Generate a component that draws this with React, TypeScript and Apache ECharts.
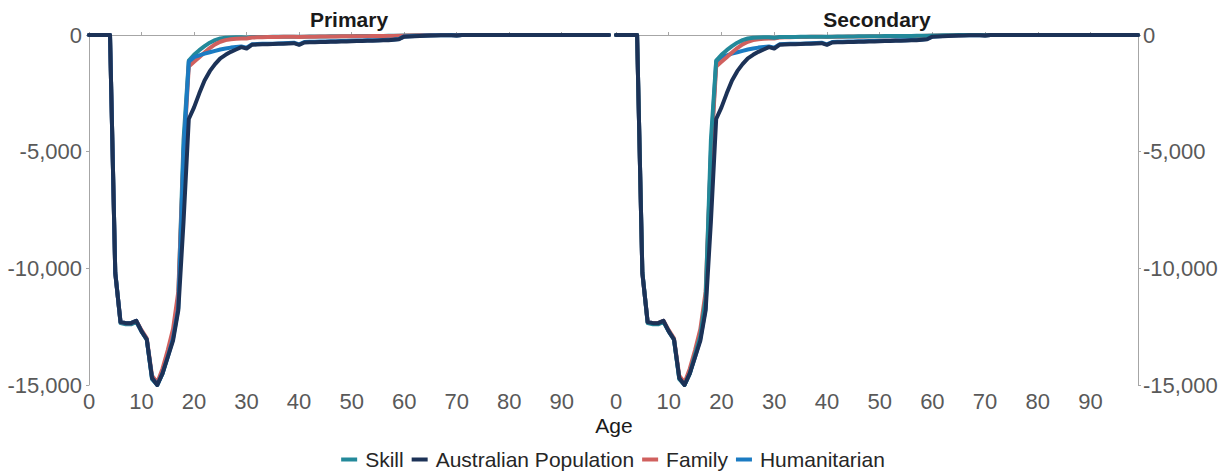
import React, { useEffect, useRef } from "react";
import * as echarts from "echarts";

const AGES: number[] = Array.from({ length: 100 }, (_, i) => i);

const TAIL_ZEROS = [0, 0, 0, 0, 0, 0, 0, 0, 0, 0, 0, 0, 0, 0, 0, 0, 0, 0, 0, 0, 0, 0, 0, 0, 0];

const AUSTRALIAN: number[] = [
  0, 0, 0, 0, 0,
  -10200, -12300, -12350, -12350, -12250,
  -12700, -13050, -14700, -15000, -14500,
  -13800, -13100, -11800, -8000, -3600,
  -3100, -2500, -1950, -1550, -1250,
  -1000, -850, -720, -620, -520,
  -580, -420, -410, -400, -400,
  -390, -380, -370, -360, -350,
  -420, -320, -310, -310, -300,
  -300, -290, -290, -280, -280,
  -270, -260, -260, -250, -250,
  -240, -230, -220, -200, -180,
  -70, -60, -50, -40, -30,
  -25, -20, -15, -10, -10,
  -25, -5, 0, 0, 0,
  ...TAIL_ZEROS,
];

const SKILL: number[] = [
  0, 0, 0, 0, 0,
  -10150, -12350, -12400, -12400, -12300,
  -12700, -13050, -14750, -15000, -14500,
  -13700, -12900, -11300, -4500, -1100,
  -850, -650, -480, -330, -220,
  -150, -120, -110, -100, -100,
  -120, -90, -90, -85, -85,
  -80, -80, -75, -75, -70,
  -80, -70, -65, -65, -60,
  -60, -55, -55, -50, -50,
  -50, -45, -45, -45, -40,
  -40, -40, -35, -35, -30,
  -25, -20, -15, -10, -10,
  -5, -5, -5, 0, 0,
  -15, 0, 0, 0, 0,
  ...TAIL_ZEROS,
];

const FAMILY: number[] = [
  0, 0, 0, 0, 0,
  -10200, -12300, -12350, -12350, -12250,
  -12650, -13000, -14600, -14900, -14300,
  -13500, -12600, -11000, -5200, -1350,
  -1150, -950, -750, -560, -400,
  -290, -220, -180, -160, -150,
  -150, -110, -100, -95, -90,
  -90, -85, -80, -80, -75,
  -85, -75, -70, -70, -65,
  -65, -60, -60, -55, -55,
  -55, -50, -50, -50, -45,
  -45, -45, -40, -40, -35,
  -30, -25, -20, -15, -10,
  -10, -5, -5, 0, 0,
  -15, 0, 0, 0, 0,
  ...TAIL_ZEROS,
];

const HUMANITARIAN: number[] = [
  0, 0, 0, 0, 0,
  -10200, -12300, -12350, -12350, -12250,
  -12700, -13050, -14700, -15000, -14500,
  -13800, -13000, -11700, -5000, -1150,
  -950, -870, -800, -740, -680,
  -620, -580, -540, -510, -490,
  -540, -400, -390, -380, -380,
  -370, -360, -350, -340, -330,
  -400, -300, -290, -290, -280,
  -280, -270, -270, -260, -260,
  -250, -240, -240, -230, -230,
  -220, -210, -200, -190, -170,
  -60, -50, -40, -30, -25,
  -20, -15, -10, -10, -5,
  -20, 0, 0, 0, 0,
  ...TAIL_ZEROS,
];

const PANELS = ["Primary", "Secondary"];
const LEGEND_NAMES = ["Skill", "Australian Population", "Family", "Humanitarian"];
const X_TICKS = { min: 0, max: 99, interval: 10 };
const Y_TICKS = { min: -15000, max: 0, interval: 5000 };

const COLORS: Record<string, string> = {
  Skill: "#23899A",
  "Australian Population": "#1C3257",
  Family: "#D0605E",
  Humanitarian: "#1B7BC2",
};

const SERIES_VALUES: Record<string, number[]> = {
  Skill: SKILL,
  "Australian Population": AUSTRALIAN,
  Family: FAMILY,
  Humanitarian: HUMANITARIAN,
};

const FONT = "'Liberation Sans', Arial, sans-serif";
const AXIS_GRAY = "#A6A6A6";
const LABEL_GRAY = "#595959";

function makeSeries(name: string, gridIndex: number) {
  const vals = SERIES_VALUES[name];
  return {
    name,
    type: "line",
    xAxisIndex: gridIndex,
    yAxisIndex: gridIndex,
    data: AGES.map((a, i) => [a, vals[i]]),
    showSymbol: false,
    symbol: "none",
    lineStyle: { width: 4, color: COLORS[name], join: "round", cap: "round" },
    itemStyle: { color: COLORS[name] },
  };
}

export default function App() {
  const ref = useRef<HTMLDivElement>(null);
  useEffect(() => {
    document.body.style.margin = "0";
    const chart = echarts.init(ref.current!, null, { renderer: "svg" });
    const xAxisBase = (gridIndex: number) => ({
      type: "value",
      gridIndex,
      min: X_TICKS.min,
      max: X_TICKS.max,
      interval: X_TICKS.interval,
      axisLine: { show: true, lineStyle: { color: AXIS_GRAY, width: 1 } },
      axisTick: { show: true, inside: true, length: 3, lineStyle: { color: AXIS_GRAY } },
      axisLabel: { fontSize: 22, color: LABEL_GRAY, fontFamily: FONT, margin: 5, showMaxLabel: false },
      splitLine: { show: false },
    });
    const yAxisBase = (gridIndex: number, position: string) => ({
      type: "value",
      gridIndex,
      position,
      min: Y_TICKS.min,
      max: Y_TICKS.max,
      interval: Y_TICKS.interval,
      axisLine: { show: true, onZero: false, lineStyle: { color: AXIS_GRAY, width: 1 } },
      axisTick: { show: true, length: 3, lineStyle: { color: AXIS_GRAY } },
      axisLabel: {
        fontSize: 22,
        color: LABEL_GRAY,
        fontFamily: FONT,
        margin: position === "left" ? 7 : 5,
        formatter: (v: number) => v.toLocaleString("en-US"),
      },
      splitLine: { show: false },
    });
    const option = {
      animation: false,
      backgroundColor: "#ffffff",
      grid: [
        { left: 89, top: 35, width: 520, height: 350 },
        { left: 616, top: 35, width: 522, height: 350 },
      ],
      xAxis: [xAxisBase(0), xAxisBase(1)],
      yAxis: [yAxisBase(0, "left"), yAxisBase(1, "right")],
      legend: {
        data: LEGEND_NAMES,
        left: "center",
        top: 444,
        icon: "rect",
        itemWidth: 16,
        itemHeight: 4,
        itemGap: 8,
        textStyle: { fontSize: 21, color: "#262626", fontFamily: FONT, padding: [0, 0, 0, 3] },
      },
      graphic: [
        {
          type: "text",
          x: 349,
          y: 19,
          style: { text: PANELS[0], textAlign: "center", textVerticalAlign: "middle", font: `bold 21px ${FONT}`, fill: "#1a1a1a" },
        },
        {
          type: "text",
          x: 877,
          y: 19,
          style: { text: PANELS[1], textAlign: "center", textVerticalAlign: "middle", font: `bold 21px ${FONT}`, fill: "#1a1a1a" },
        },
        {
          type: "text",
          x: 614,
          y: 425,
          style: { text: "Age", textAlign: "center", textVerticalAlign: "middle", font: `21px ${FONT}`, fill: "#1a1a1a" },
        },
      ],
      series: [
        makeSeries("Skill", 0),
        makeSeries("Family", 0),
        makeSeries("Humanitarian", 0),
        makeSeries("Australian Population", 0),
        makeSeries("Humanitarian", 1),
        makeSeries("Family", 1),
        makeSeries("Skill", 1),
        makeSeries("Australian Population", 1),
      ],
    };
    chart.setOption(option as any);
    return () => chart.dispose();
  }, []);
  return <div ref={ref} style={{ width: 1226, height: 472 }} />;
}
